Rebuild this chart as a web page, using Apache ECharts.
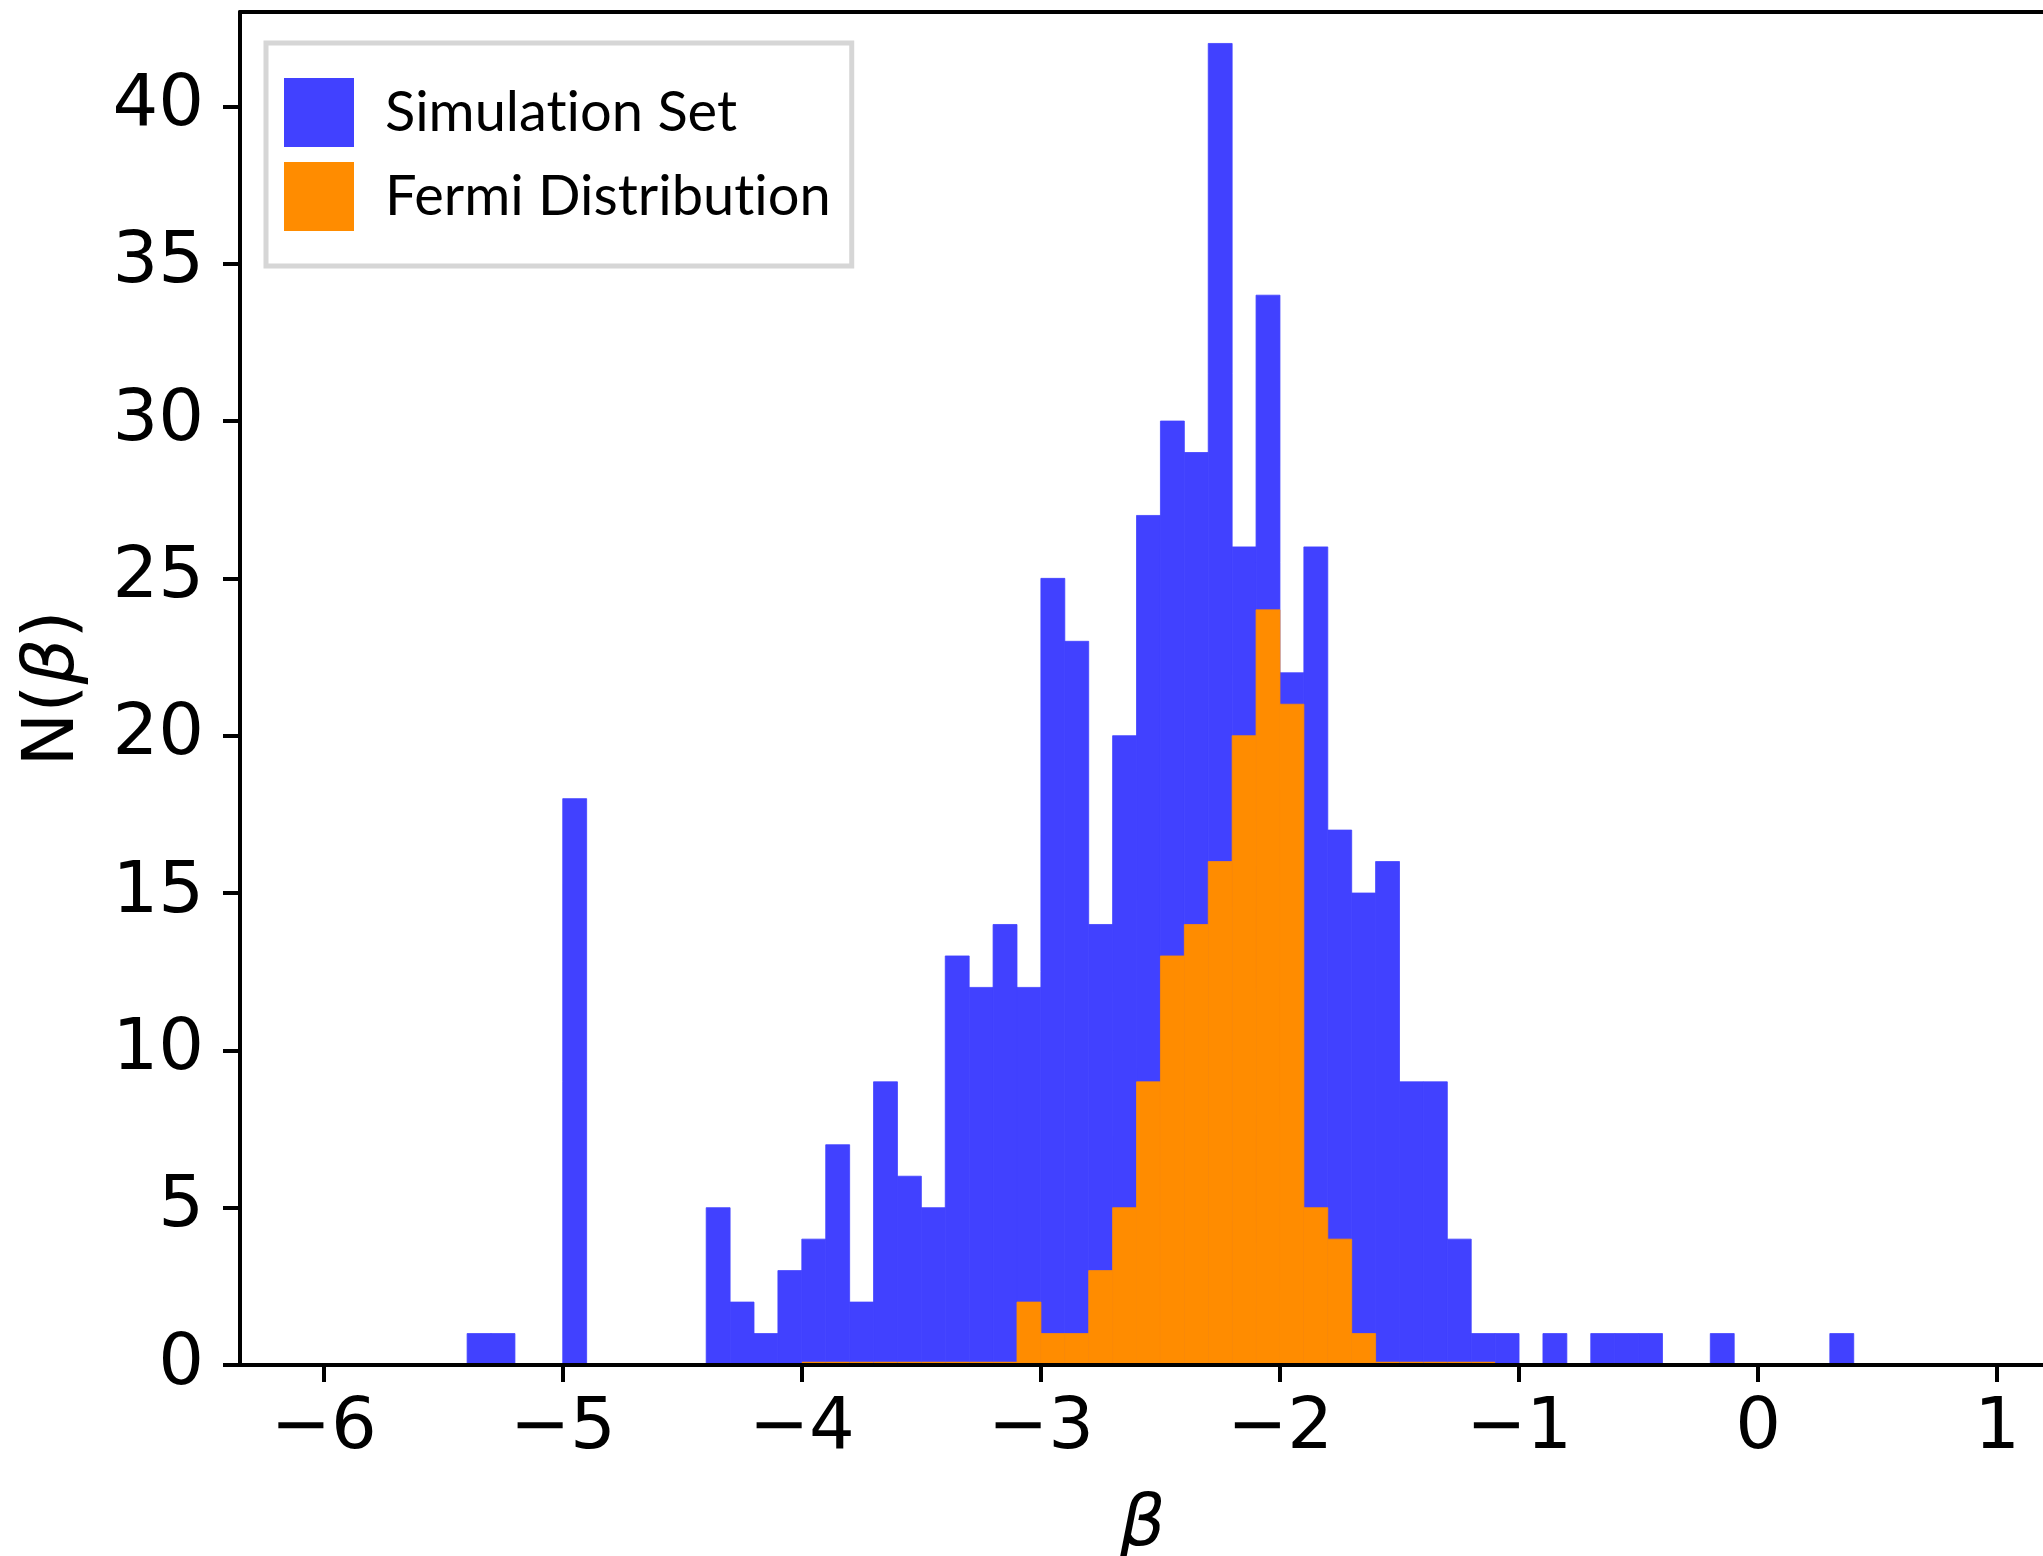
<!DOCTYPE html>
<html>
<head>
<meta charset="utf-8">
<script src="https://cdn.jsdelivr.net/npm/echarts@6/dist/echarts.min.js"></script>
<style>
  html, body { margin: 0; padding: 0; background: #ffffff; }
  #chart { width: 2043px; height: 1556px; }
</style>
</head>
<body>
<div id="chart"></div>
<script>
// Histogram bin width in beta
const BIN_WIDTH = 0.1;

// Simulation set: left edge of each occupied bin and its count
const simulationBinStarts = [
  -5.4, -5.3, -5.0, -4.4, -4.3, -4.2, -4.1, -4.0, -3.9, -3.8,
  -3.7, -3.6, -3.5, -3.4, -3.3, -3.2, -3.1, -3.0, -2.9, -2.8,
  -2.7, -2.6, -2.5, -2.4, -2.3, -2.2, -2.1, -2.0, -1.9, -1.8,
  -1.7, -1.6, -1.5, -1.4, -1.3, -1.2, -1.1, -0.9, -0.7, -0.6,
  -0.5, -0.2, 0.3
];
const simulationCounts = [
  1, 1, 18, 5, 2, 1, 3, 4, 7, 2,
  9, 6, 5, 13, 12, 14, 12, 25, 23, 14,
  20, 27, 30, 29, 42, 26, 34, 22, 26, 17,
  15, 16, 9, 9, 4, 1, 1, 1, 1, 1,
  1, 1, 1
];

// Fermi distribution: every bin from -4.0 to -1.1
const fermiBinStarts = [
  -4.0, -3.9, -3.8, -3.7, -3.6, -3.5, -3.4, -3.3, -3.2, -3.1,
  -3.0, -2.9, -2.8, -2.7, -2.6, -2.5, -2.4, -2.3, -2.2, -2.1,
  -2.0, -1.9, -1.8, -1.7, -1.6, -1.5, -1.4, -1.3, -1.2
];
const fermiCounts = [
  0, 0, 0, 0, 0, 0, 0, 0, 0, 2,
  1, 1, 3, 5, 9, 13, 14, 16, 20, 24,
  21, 5, 4, 1, 0, 0, 0, 0, 0
];

// Axis ticks
const xTicks = [-6, -5, -4, -3, -2, -1, 0, 1];
const yTicks = [0, 5, 10, 15, 20, 25, 30, 35, 40];

const SIM_COLOR = '#4141ff';
const FERMI_COLOR = '#ff8c00';
const TICK_FONT = '"DejaVu Sans", sans-serif';

function toPairs(starts, counts) {
  return starts.map((s, i) => [s, counts[i]]);
}

// Draws one histogram bin as a rectangle spanning [start, start + width]
function binRenderer(color) {
  return function (params, api) {
    const x0 = api.value(0);
    const n = api.value(1);
    const base = api.coord([x0, 0]);
    const top = api.coord([x0 + BIN_WIDTH, n]);
    if (n === 0) {
      // empty bin: thin edge along the baseline
      return {
        type: 'line',
        shape: { x1: base[0], y1: base[1] - 2.5, x2: top[0], y2: base[1] - 2.5 },
        style: { stroke: color, lineWidth: 1.5 }
      };
    }
    return {
      type: 'rect',
      shape: { x: base[0], y: top[1], width: top[0] - base[0], height: base[1] - top[1] },
      style: { fill: color, stroke: color, lineWidth: 0.8 }
    };
  };
}

const minusFmt = v => (v < 0 ? '\u2212' + Math.abs(v) : String(v));

const chart = echarts.init(document.getElementById('chart'), null, { renderer: 'canvas' });

chart.setOption({
  animation: false,
  backgroundColor: '#ffffff',
  grid: {
    left: 240, top: 12, width: 1805, height: 1353,
    containLabel: false,
    outerBoundsMode: 'none'
  },
  legend: {
    orient: 'vertical',
    left: 266,
    top: 43,
    padding: [35, 21, 35, 18],
    itemWidth: 70,
    itemHeight: 69,
    itemGap: 15,
    icon: 'rect',
    backgroundColor: '#ffffff',
    borderColor: '#d6d6d6',
    borderWidth: 5,
    borderRadius: 0,
    // keep the letter pairs unjoined
    formatter: name => name.replace(/ti/g, 't\u200Ci'),
    textStyle: { fontFamily: 'Lato, sans-serif', fontSize: 56, color: '#000', padding: [0, 0, 0, 26] },
    data: ['Simulation Set', 'Fermi Distribution']
  },
  xAxis: [
    {
      type: 'value',
      min: -6.35,
      max: 1.2,
      z: 10,
      name: '{i|\u03b2}',
      nameLocation: 'middle',
      nameGap: 125,
      nameTextStyle: {
        rich: { i: { fontFamily: TICK_FONT, fontStyle: 'italic', fontSize: 72, color: '#000' } }
      },
      axisLine: { show: true, onZero: false, lineStyle: { color: '#000', width: 4 } },
      axisTick: { show: true, length: 17, customValues: xTicks, lineStyle: { color: '#000', width: 4 } },
      axisLabel: {
        customValues: xTicks,
        formatter: minusFmt,
        margin: 28,
        fontFamily: TICK_FONT,
        fontSize: 72,
        color: '#000'
      },
      splitLine: { show: false }
    },
    {
      type: 'value',
      position: 'top',
      min: -6.35,
      max: 1.2,
      z: 10,
      axisLine: { show: true, onZero: false, lineStyle: { color: '#000', width: 4 } },
      axisTick: { show: false },
      axisLabel: { show: false },
      splitLine: { show: false }
    }
  ],
  yAxis: {
    type: 'value',
    min: 0,
    max: 43,
    z: 10,
    name: '{n|N(}{i|\u03b2}{n|)}',
    nameLocation: 'middle',
    nameRotate: 90,
    nameGap: 150,
    nameTextStyle: {
      rich: {
        n: { fontFamily: TICK_FONT, fontSize: 72, color: '#000' },
        i: { fontFamily: TICK_FONT, fontStyle: 'italic', fontSize: 72, color: '#000' }
      }
    },
    axisLine: { show: true, onZero: false, lineStyle: { color: '#000', width: 4 } },
    axisTick: { show: true, length: 17, customValues: yTicks, lineStyle: { color: '#000', width: 4 } },
    axisLabel: {
      customValues: yTicks,
      margin: 36,
      fontFamily: TICK_FONT,
      fontSize: 72,
      color: '#000'
    },
    splitLine: { show: false }
  },
  series: [
    {
      name: 'Simulation Set',
      type: 'custom',
      xAxisIndex: 0,
      clip: true,
      itemStyle: { color: SIM_COLOR },
      renderItem: binRenderer(SIM_COLOR),
      encode: { x: 0, y: 1 },
      data: toPairs(simulationBinStarts, simulationCounts)
    },
    {
      name: 'Fermi Distribution',
      type: 'custom',
      xAxisIndex: 0,
      clip: true,
      itemStyle: { color: FERMI_COLOR },
      renderItem: binRenderer(FERMI_COLOR),
      encode: { x: 0, y: 1 },
      data: toPairs(fermiBinStarts, fermiCounts)
    }
  ]
});
</script>
</body>
</html>
